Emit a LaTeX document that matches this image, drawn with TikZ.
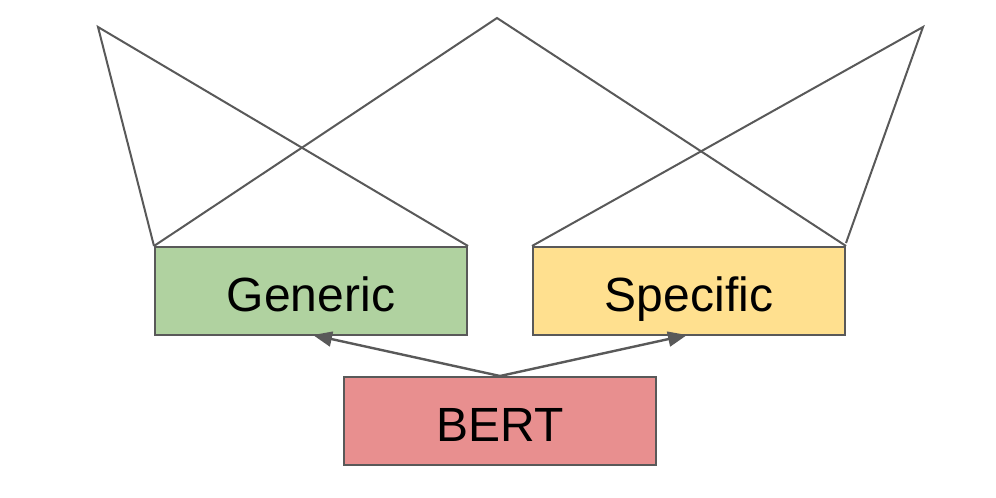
\documentclass[tikz,border=0pt]{standalone}
\usepackage{fontspec}
\setmainfont{Liberation Sans}
\usetikzlibrary{arrows.meta}
\definecolor{edge}{HTML}{595959}
\definecolor{gfill}{HTML}{B0D2A0}
\definecolor{yfill}{HTML}{FFE08F}
\definecolor{rfill}{HTML}{E88F8F}
\tikzset{
  boxstyle/.style={draw=edge, line width=2pt, minimum width=312pt, minimum height=88pt, inner sep=0pt, text height=40pt, text depth=0pt, font=\fontsize{48}{52}\selectfont, text=black},
  wire/.style={draw=edge, line width=2pt},
  arr/.style={draw=edge, line width=2.4pt, -{Triangle[length=19pt,width=15pt]}}
}
\begin{document}
\begin{tikzpicture}[x=1pt,y=-1pt]
\useasboundingbox (0,0) rectangle (996,498);
\node[boxstyle, fill=gfill] (gen) at (311,291) {Generic};
\node[boxstyle, fill=yfill] (spe) at (689,291) {Specific};
\node[boxstyle, fill=rfill] (bert) at (500,421) {BERT};
\coordinate (tl) at (98,27);
\coordinate (tc) at (497,18);
\coordinate (tr) at (923,27);
\coordinate (srt) at (846,243);
\draw[wire] (gen.north west) -- (tl) -- (gen.north east);
\draw[wire] (gen.north west) -- (tc) -- (spe.north east);
\draw[wire] (spe.north west) -- (tr) -- (srt);
\draw[arr] (bert.north) -- (313,335);
\draw[arr] (bert.north) -- (687,335);
\end{tikzpicture}
\end{document}
